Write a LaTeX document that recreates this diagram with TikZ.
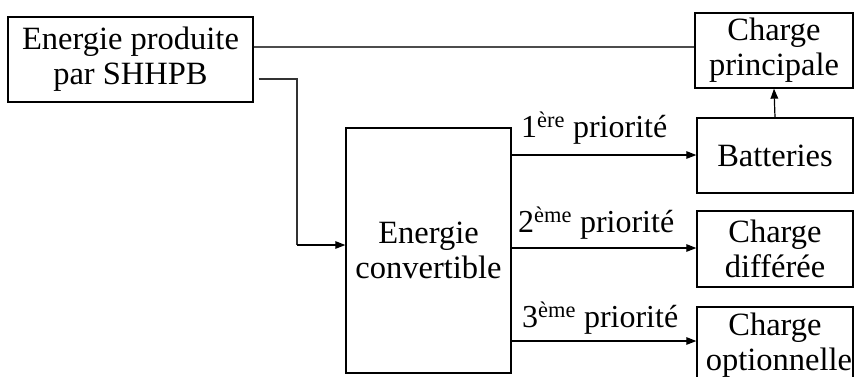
\documentclass[tikz,border=0pt]{standalone}
\usepackage{fontspec}
\setmainfont{Liberation Serif}
\usetikzlibrary{arrows.meta}
\begin{document}
\begin{tikzpicture}[x=1pt,y=-1pt,
  box/.style={draw, line width=1.3pt, inner sep=0pt, align=center,
    font=\fontsize{32.5}{35}\selectfont},
  lbl/.style={inner sep=0pt, anchor=base west, font=\fontsize{32}{35}\selectfont},
  arr/.style={line width=1.2pt, -{Triangle[length=10pt,width=7.5pt]}},
  ln/.style={line width=1.1pt}]
\useasboundingbox (0,0) rectangle (854,376);
\clip (0,0) rectangle (854,376);
\node[box, minimum width=245pt, minimum height=85pt] (src) at (130.5,59.5) {Energie produite\\par SHHPB};
\node[box, minimum width=158pt, minimum height=75pt] (cp) at (774,50.5) {Charge\\principale};
\node[box, minimum width=156pt, minimum height=75pt] (bat) at (775,155.5) {Batteries};
\node[box, minimum width=156pt, minimum height=76pt] (cd) at (775,249) {Charge\\différée};
\node[box, minimum width=156pt, minimum height=76pt, text width=156pt] (co) at (775,345) {Charge\\\makebox[0pt]{\hspace*{8pt}optionnelle}};
\node[box, minimum width=165pt, minimum height=245pt] (ec) at (428.5,250.5) {Energie\\convertible};
\coordinate (s1) at (src.east |- 0,47);
\coordinate (s2) at ([xshift=5pt]src.east |- 0,79);
\coordinate (k1) at (297,79);
\coordinate (k2) at (297,245);
\draw[ln, draw=black!70] (s1) -- (s1 -| cp.west);
\draw[ln, draw=black!80] (s2) -- (k1) -- (k2);
\draw[arr] (k2) -- (k2 -| ec.west);
\draw[arr] (bat.north) -- (cp.south);
\draw[arr] (ec.east |- 0,155) -- (bat.west |- 0,155);
\draw[arr] (ec.east |- 0,248) -- (cd.west |- 0,248);
\draw[arr] (ec.east |- 0,341) -- (co.west |- 0,341);
\node[lbl] (l1) at (521,137) {1\textsuperscript{ère} priorité};
\node[lbl] (l2) at (518,232) {2\textsuperscript{ème} priorité};
\node[lbl] (l3) at (522,327) {3\textsuperscript{ème} priorité};
\end{tikzpicture}
\end{document}
